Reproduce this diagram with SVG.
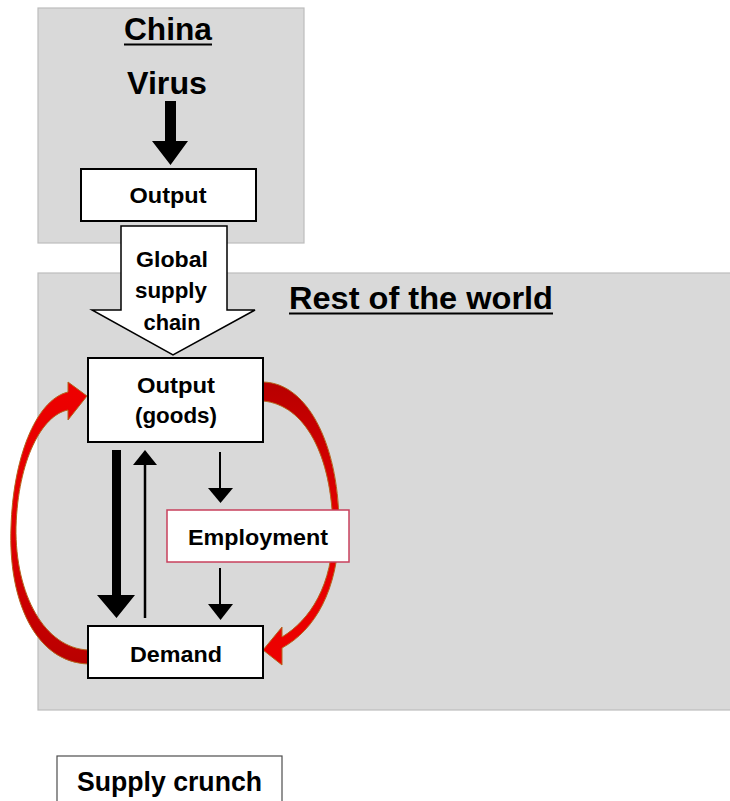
<svg xmlns="http://www.w3.org/2000/svg" width="730" height="801" viewBox="0 0 730 801">
<defs>
<style>
.region{fill:#d9d9d9;stroke:#bdbdbd;stroke-width:1.2}
.box{fill:#ffffff;stroke:#000000;stroke-width:2}
.t{font-family:"Liberation Sans",Arial,sans-serif;font-weight:bold;fill:#000000;text-anchor:middle}
.title{font-size:31px}
.lbl{font-size:22px}
.red{stroke:#b5651d;stroke-width:1}
</style>
<linearGradient id="gL" x1="0" y1="0" x2="0" y2="1">
<stop offset="0" stop-color="#ee0000"/>
<stop offset="0.55" stop-color="#e00000"/>
<stop offset="1" stop-color="#b80000"/>
</linearGradient>
<linearGradient id="gR" x1="0" y1="0" x2="0" y2="1">
<stop offset="0" stop-color="#b80000"/>
<stop offset="0.45" stop-color="#e00000"/>
<stop offset="1" stop-color="#ee0000"/>
</linearGradient>
</defs>

<g id="china-region">
<rect class="region" x="38" y="8" width="266" height="235"/>
<text class="t title" x="168" y="40" textLength="88" lengthAdjust="spacingAndGlyphs">China</text>
<line x1="124" y1="44.5" x2="212" y2="44.5" stroke="#000" stroke-width="2"/>
<text class="t title" x="167" y="94" textLength="80" lengthAdjust="spacingAndGlyphs">Virus</text>
</g>

<g id="row-region">
<rect class="region" x="38" y="273" width="700" height="437"/>
<text class="t title" x="421" y="309" textLength="264" lengthAdjust="spacingAndGlyphs">Rest of the world</text>
<line x1="289" y1="313.5" x2="553" y2="313.5" stroke="#000" stroke-width="2"/>
</g>

<g id="connectors">
<!-- virus arrow -->
<polygon points="165,101 176,101 176,141 188,141 170.5,165 152,141 165,141" fill="#000"/>
<!-- global supply chain block arrow -->
<g id="global-supply-chain">
<polygon points="121,226 227,226 227,310 255,310 173,355 92,310 121,310" fill="#fff" stroke="#000" stroke-width="1.5" stroke-linejoin="miter"/>
<text class="t lbl" x="172" y="267" textLength="72" lengthAdjust="spacingAndGlyphs">Global</text>
<text class="t lbl" x="171" y="298" textLength="72" lengthAdjust="spacingAndGlyphs">supply</text>
<text class="t lbl" x="172" y="330" textLength="57" lengthAdjust="spacingAndGlyphs">chain</text>
</g>
<!-- thick down arrow output -> demand -->
<polygon points="112,450 121,450 121,595 135,595 116.5,618 97,595 112,595" fill="#000"/>
<!-- thin up arrow demand -> output -->
<line x1="145" y1="618" x2="145" y2="463" stroke="#000" stroke-width="2.5"/>
<polygon points="133,465 157,465 145,450" fill="#000"/>
<!-- output -> employment -->
<line x1="220" y1="452" x2="220" y2="490" stroke="#000" stroke-width="2"/>
<polygon points="208,488 233,488 220.5,503" fill="#000"/>
<!-- employment -> demand -->
<line x1="220" y1="568" x2="220" y2="606" stroke="#000" stroke-width="2"/>
<polygon points="208,604 233,604 220.5,620" fill="#000"/>
<!-- red curved arrow left: demand -> output -->
<path class="red" fill="url(#gL)" d="M 88 664 C 35 662, 8 600, 11 527 C 13 460, 35 400, 68 392 L 68 382 L 87 396 L 68 420 L 68 410 C 42 415, 18 460, 16 527 C 15 595, 45 648, 88 650 Z"/>
<!-- red curved arrow right: output -> demand -->
<path class="red" fill="url(#gR)" d="M 263 382 C 310 383, 340 450, 339 530 C 338 590, 315 630, 282 648 L 282 665 L 263 650 L 282 627 L 282 637 C 310 620, 333 585, 333 530 C 332 455, 305 405, 263 401 Z"/>
</g>

<g id="china-output">
<rect class="box" x="81" y="169" width="175" height="52"/>
<text class="t lbl" x="168" y="203" textLength="77" lengthAdjust="spacingAndGlyphs">Output</text>
</g>

<g id="output-goods">
<rect class="box" x="88" y="358" width="175" height="84"/>
<text class="t lbl" x="176" y="393" textLength="78" lengthAdjust="spacingAndGlyphs">Output</text>
<text class="t lbl" x="176" y="423" textLength="82" lengthAdjust="spacingAndGlyphs">(goods)</text>
</g>

<g id="employment">
<rect x="167" y="510" width="182" height="52" fill="#fff" stroke="#c8405c" stroke-width="1.5"/>
<text class="t lbl" x="258" y="545" textLength="140" lengthAdjust="spacingAndGlyphs">Employment</text>
</g>

<g id="demand">
<rect class="box" x="88" y="626" width="175" height="52"/>
<text class="t lbl" x="176" y="662" textLength="92" lengthAdjust="spacingAndGlyphs">Demand</text>
</g>

<g id="supply-crunch">
<rect x="57" y="756" width="225" height="60" fill="#fff" stroke="#4d4d4d" stroke-width="1.2"/>
<text class="t" style="font-size:28px" x="169.5" y="791" textLength="185" lengthAdjust="spacingAndGlyphs">Supply crunch</text>
</g>
</svg>
